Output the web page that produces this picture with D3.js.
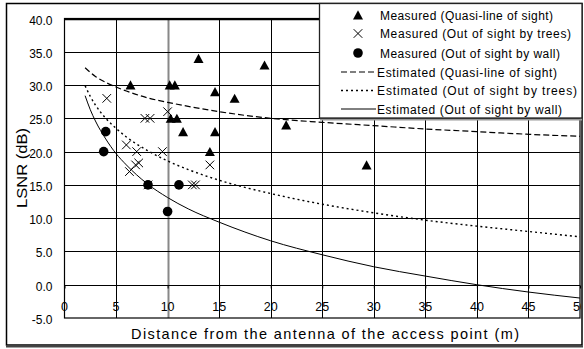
<!DOCTYPE html>
<html>
<head>
<meta charset="utf-8">
<script src="https://cdn.jsdelivr.net/npm/d3@7"></script>
<style>
  body { margin: 0; background: #fff; }
  svg { display: block; font-family: "Liberation Sans", Arial, sans-serif; }
</style>
</head>
<body>
<script>
// measured: quasi-line of sight
var losX = [6.4, 10.2, 10.7, 13.0, 14.6, 10.3, 10.9, 11.5, 14.6, 14.1, 16.5, 19.4, 21.5, 29.3];
var losY = [30, 30, 30, 34, 29, 25, 25, 23, 23, 20, 28, 33, 24, 18];
// measured: out of sight by trees
var treesX = [4.1, 7.8, 8.3, 10.0, 6.0, 7.0, 9.5, 6.3, 6.9, 7.2, 8.1, 12.4, 12.7, 14.1];
var treesY = [28, 25, 25, 26, 21, 20, 20, 17, 18, 18.3, 15, 15, 15, 18];
// measured: out of sight by wall
var wallX = [4.0, 3.8, 8.1, 11.1, 10.0];
var wallY = [23, 20, 15, 15, 11];

// estimated curves
var estX     = [2, 2.5, 3, 4, 5, 6, 8, 10, 12, 15, 20, 25, 30, 35, 40, 45, 50];
var estLos   = [32.6, 31.9, 31.3, 30.4, 29.7, 29.1, 28.1, 27.4, 26.8, 26.0, 25.0, 24.4, 23.9, 23.4, 23.0, 22.6, 22.3];
var estTrees = [29.9, 28.3, 27.0, 25.0, 23.5, 22.2, 20.2, 18.6, 17.3, 15.7, 13.7, 12.1, 10.8, 9.7, 8.8, 8.0, 7.2];
var estWall  = [28.4, 26.3, 24.6, 21.9, 19.7, 18.0, 15.2, 13.1, 11.4, 9.4, 6.6, 4.5, 2.7, 1.3, 0.0, -1.1, -2.0];

var xTicks = [0, 5, 10, 15, 20, 25, 30, 35, 40, 45, 50];
var yTicks = [-5, 0, 5, 10, 15, 20, 25, 30, 35, 40];

var legendLabels = [
  "Measured (Quasi-line of sight)",
  "Measured (Out of sight by trees)",
  "Measured (Out of sight by wall)",
  "Estimated (Quasi-line of sight)",
  "Estimated (Out of sight by trees)",
  "Estimated (Out of sight by wall)"
];

var W = 584, H = 349;
var plot = {left: 64.5, right: 580, top: 18.5, bottom: 318};

var svg = d3.select("body").append("svg")
  .attr("width", W).attr("height", H);

// outer frame
svg.append("rect")
  .attr("x", 6.5).attr("y", 3.5)
  .attr("width", 575.5).attr("height", 341.5)
  .attr("fill", "#fff").attr("stroke", "#000").attr("stroke-width", 1.5);
svg.append("line")
  .attr("x1", 6).attr("x2", 583).attr("y1", 346.5).attr("y2", 346.5)
  .attr("stroke", "#444").attr("stroke-width", 2);

var x = d3.scaleLinear().domain([0, 50]).range([plot.left, plot.right]);
var y = d3.scaleLinear().domain([-5, 40]).range([plot.bottom, plot.top]);

// grid
var grid = svg.append("g");
grid.selectAll(".vg").data(xTicks.slice(1, -1)).enter().append("line")
  .attr("x1", function(d) { return Math.round(x(d)) + 0.5; })
  .attr("x2", function(d) { return Math.round(x(d)) + 0.5; })
  .attr("y1", plot.top).attr("y2", plot.bottom)
  .attr("stroke", function(d) { return d === 10 ? "#888" : "#000"; })
  .attr("stroke-width", function(d) { return d === 10 ? 2 : 1; });
grid.selectAll(".hg").data(yTicks.slice(1)).enter().append("line")
  .attr("x1", plot.left).attr("x2", plot.right)
  .attr("y1", function(d) { return Math.round(y(d)) + 0.5; })
  .attr("y2", function(d) { return Math.round(y(d)) + 0.5; })
  .attr("stroke", "#000").attr("stroke-width", function(d) { return d === 40 ? 1.6 : 1; });

// x axis at y = 0 with small ticks
var xAxis = d3.axisBottom(x).tickValues(xTicks).tickSize(3).tickFormat("");
var xa = svg.append("g")
  .attr("transform", "translate(0," + (Math.round(y(0)) + 0.5) + ")")
  .call(xAxis);
xa.select(".domain").remove();
xa.selectAll("line").attr("stroke", "#000");

// plot border
svg.append("rect")
  .attr("x", plot.left).attr("y", plot.top)
  .attr("width", plot.right - plot.left).attr("height", plot.bottom - plot.top)
  .attr("fill", "none").attr("stroke", "#000").attr("stroke-width", 1.2);

// x tick labels, clipped at the right border
svg.append("clipPath").attr("id", "xclip").append("rect")
  .attr("x", 0).attr("y", 0).attr("width", 581).attr("height", H);
svg.append("g").attr("clip-path", "url(#xclip)")
  .selectAll("text").data(xTicks).enter().append("text")
  .attr("x", function(d) { return x(d); })
  .attr("y", 310.5)
  .attr("text-anchor", "middle")
  .attr("font-size", "12.5px")
  .text(function(d) { return d; });

// y tick labels
svg.append("g").selectAll("text").data(yTicks).enter().append("text")
  .attr("x", 52.5)
  .attr("y", function(d) { return y(d) + 6; })
  .attr("text-anchor", "end")
  .attr("font-size", "12px")
  .text(function(d) { return d.toFixed(1); });

// axis titles
svg.append("text")
  .attr("transform", "translate(26.5,168) rotate(-90)")
  .attr("text-anchor", "middle")
  .attr("font-size", "14.5px")
  .attr("textLength", 80).attr("lengthAdjust", "spacingAndGlyphs")
  .text("LSNR (dB)");
svg.append("text")
  .attr("x", 325).attr("y", 338.5)
  .attr("text-anchor", "middle")
  .attr("font-size", "14.5px")
  .attr("textLength", 388).attr("lengthAdjust", "spacing")
  .text("Distance from the antenna of the access point (m)");

// marker shapes
function triPath(cx, cy) {
  return "M" + cx + "," + (cy - 4.7) + "L" + (cx + 5) + "," + (cy + 4.5) + "L" + (cx - 5) + "," + (cy + 4.5) + "Z";
}
function crossPath(cx, cy) {
  var s = 4.3;
  return "M" + (cx - s) + "," + (cy - s) + "L" + (cx + s) + "," + (cy + s) +
         "M" + (cx - s) + "," + (cy + s) + "L" + (cx + s) + "," + (cy - s);
}

// estimated lines
var line = d3.line()
  .x(function(d) { return x(d[0]); })
  .y(function(d) { return y(d[1]); })
  .curve(d3.curveMonotoneX);
var curves = [
  {vals: estLos, dash: "6,3", w: 1.2},
  {vals: estTrees, dash: "2,3", w: 1.4},
  {vals: estWall, dash: null, w: 1}
];
var lines = svg.append("g");
curves.forEach(function(c) {
  var pts = estX.map(function(v, i) { return [v, c.vals[i]]; });
  lines.append("path").datum(pts)
    .attr("d", line)
    .attr("fill", "none").attr("stroke", "#000")
    .attr("stroke-width", c.w)
    .attr("stroke-dasharray", c.dash);
});

// measured markers
var marks = svg.append("g");
marks.selectAll(".tri").data(losX).enter().append("path")
  .attr("d", function(d, i) { return triPath(x(d), y(losY[i])); })
  .attr("fill", "#000");
marks.selectAll(".cross").data(treesX).enter().append("path")
  .attr("d", function(d, i) { return crossPath(x(d), y(treesY[i])); })
  .attr("fill", "none").attr("stroke", "#000").attr("stroke-width", 1);
marks.selectAll(".dot").data(wallX).enter().append("circle")
  .attr("cx", function(d) { return x(d); })
  .attr("cy", function(d, i) { return y(wallY[i]); })
  .attr("r", 4.8)
  .attr("fill", "#000");

// legend
var lg = svg.append("g");
lg.append("line")
  .attr("x1", 320).attr("x2", 582).attr("y1", 119.5).attr("y2", 119.5)
  .attr("stroke", "#999").attr("stroke-width", 2);
lg.append("rect")
  .attr("x", 319.5).attr("y", 3.5).attr("width", 262.5).attr("height", 114.5)
  .attr("fill", "#fff").attr("stroke", "#222").attr("stroke-width", 1.3);

var rowY = [15, 33.5, 53, 72, 90.5, 109];
var textW = [173, 191, 180, 180, 200, 185];
var mx = 358;
lg.append("path").attr("d", triPath(mx, rowY[0])).attr("fill", "#000");
lg.append("path").attr("d", crossPath(mx, rowY[1]))
  .attr("fill", "none").attr("stroke", "#000");
lg.append("circle").attr("cx", mx).attr("cy", rowY[2]).attr("r", 4.8).attr("fill", "#000");
curves.forEach(function(c, i) {
  lg.append("line")
    .attr("x1", 341).attr("x2", 376)
    .attr("y1", rowY[3 + i]).attr("y2", rowY[3 + i])
    .attr("stroke", "#000").attr("stroke-width", c.w)
    .attr("stroke-dasharray", c.dash);
});
lg.selectAll("text").data(legendLabels).enter().append("text")
  .attr("x", function(d, i) { return i < 3 ? 380 : 377; })
  .attr("y", function(d, i) { return rowY[i] + 4.5; })
  .attr("font-size", "12px")
  .attr("textLength", function(d, i) { return textW[i]; })
  .attr("lengthAdjust", "spacing")
  .text(function(d) { return d; });
</script>
</body>
</html>
